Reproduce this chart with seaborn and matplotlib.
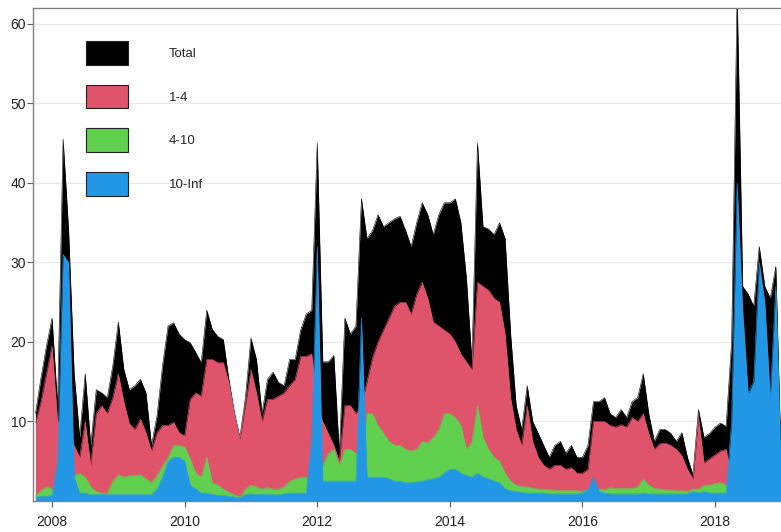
import numpy as np
import pandas as pd
import matplotlib
matplotlib.use("Agg")
import matplotlib.pyplot as plt
import seaborn as sns
from matplotlib.patches import Patch

# monthly counts, Oct 2007 .. Jan 2019
total = [11, 15.5, 19.5, 23, 12, 45.5, 34, 16, 8, 16,
         7, 14, 13.6, 13, 17, 22.5, 16.5, 14, 14.5, 15.3,
         13.6, 7, 10.7, 17, 22, 22.4, 21, 20.3, 19.9, 18.7,
         17.4, 24, 21.6, 20.7, 20.3, 15.3, 11.1, 8, 13, 20.5,
         17.8, 11, 15.3, 16.2, 14.9, 14.5, 17.8, 17.8, 21.5, 23.5,
         24, 45, 17.5, 17.5, 18.3, 6, 23, 21, 22, 38,
         33, 34, 36, 34.5, 35, 35.5, 35.8, 34, 32, 35,
         37.5, 36, 33.5, 36, 37.5, 37.5, 38, 35, 28, 17.5,
         45, 34.5, 34.2, 33.5, 35, 33, 21, 12, 9, 14.5,
         10, 8.5, 7, 5.5, 7, 7.5, 6, 7, 5.5, 5.5,
         7, 12.5, 12.5, 13, 11, 10.5, 11.5, 10.5, 12.5, 13,
         16, 11, 7.5, 9, 9, 8.5, 7.5, 8.6, 5.5, 3.3,
         11.5, 8, 8.5, 9.3, 9.8, 9.4, 20, 64, 27, 26,
         24.5, 32, 27, 25.5, 29.5, 4]

r1_4 = [9.8, 12.5, 16, 19.5, 10, 10, 8, 7, 5.5, 10,
        4.5, 11, 12, 11, 13, 16, 12.5, 9.7, 9, 10.3,
        8.6, 6.3, 8.6, 9.5, 9.5, 9.9, 8.6, 8.2, 12.8, 13.6,
        13.2, 17.8, 17.8, 17.4, 17.4, 14.9, 11, 7.8, 12, 16.5,
        13.6, 10, 12.8, 12.8, 13.2, 13.6, 14.5, 15.3, 18.2, 18.2,
        18.5, 12, 10, 8.5, 7, 5, 12, 12, 11, 12,
        15, 18, 20, 21.5, 23, 24.5, 25, 25, 23.5, 26,
        27.5, 25.5, 22.5, 22, 21.5, 21, 20, 18.5, 17.5, 16.5,
        27.5, 27, 26.5, 25.5, 25, 21, 13, 9, 7, 12,
        7.5, 5.5, 4.5, 4, 4.5, 4.5, 4, 4.2, 3.5, 3.5,
        4, 10, 10, 10, 9.5, 9.3, 9.6, 9.3, 10.5, 10,
        11, 8.5, 6.5, 7.2, 7.3, 7, 6.5, 5.7, 4, 2.8,
        10.5, 4.8, 5.3, 5.8, 6.3, 6.5, 3, 2, 2, 2,
        2, 2, 2, 2, 2, 1.5]

r4_10 = [0.7, 1.3, 1.8, 1.5, 1, 1, 1, 3.2, 3.5, 3,
         1.8, 1.2, 1, 1, 2.5, 3.3, 3, 3.2, 3.2, 3.3,
         2.8, 2.3, 3.2, 4.4, 5.5, 7, 7, 6.8, 5.3, 3.5,
         3, 5.5, 2.3, 2, 1.5, 1.1, 0.8, 0.5, 1.5, 2,
         1.8, 1.5, 1.7, 1.5, 1.5, 1.8, 2.5, 2.8, 3, 3,
         3, 4, 4.5, 6, 6.5, 4.5, 6.5, 6.5, 6, 6,
         11, 11, 9.5, 8.5, 7.5, 7, 7, 6.5, 6.3, 6.5,
         7.5, 7.3, 8, 9, 11, 11, 10.5, 9.5, 6.5, 7.5,
         12, 8, 6.5, 5.5, 5, 3.5, 2.5, 2, 1.8, 1.8,
         1.6, 1.5, 1.5, 1.4, 1.4, 1.3, 1.3, 1.3, 1.3, 1.2,
         1.5, 2, 1.5, 1.4, 1.7, 1.6, 1.6, 1.6, 1.6, 1.8,
         2.8, 2, 1.6, 1.5, 1.4, 1.4, 1.3, 1.3, 1.2, 1.5,
         1.5, 2, 2, 2.2, 2.3, 2, 1, 1, 1, 1,
         1, 1, 1, 1, 1, 1]

r10_inf = [0.5, 0.6, 0.6, 0.7, 5, 31, 30, 3, 1, 1,
           0.8, 0.8, 0.8, 0.8, 0.8, 0.8, 0.8, 0.8, 0.8, 0.8,
           0.8, 0.8, 1.5, 3, 5, 5.5, 5.5, 5, 2, 1.5,
           1, 1, 0.8, 0.7, 0.7, 0.6, 0.5, 0.4, 0.8, 0.9,
           0.8, 0.8, 0.8, 0.8, 0.8, 0.9, 1, 1, 1, 1,
           8, 32, 2.5, 2.5, 2.5, 2.5, 2.5, 2.5, 2.5, 23,
           3, 3, 3, 3, 2.8, 2.5, 2.5, 2.3, 2.3, 2.4,
           2.5, 2.7, 2.8, 3, 3.5, 4, 4, 3.5, 3.2, 3,
           3.5, 3, 2.8, 2.5, 2.3, 1.5, 1.3, 1.2, 1.1, 1,
           1, 1, 1, 0.9, 0.9, 0.9, 0.9, 0.9, 0.9, 1,
           1.5, 3, 1.2, 1, 0.9, 0.9, 0.9, 0.9, 0.9, 0.9,
           1, 0.9, 0.9, 0.9, 0.9, 0.9, 0.9, 0.9, 0.9, 1.2,
           1, 1.2, 1, 1, 1, 1, 10, 40, 24, 13.5,
           15, 30, 25, 13, 27, 3]

labels = ["Total", "1-4", "4-10", "10-Inf"]
colors = ["#000000", "#DF536B", "#61D04F", "#2297E6"]

months = pd.date_range("2007-10-01", periods=len(total), freq="MS")
t = months.year + (months.month - 1) / 12

df = pd.DataFrame({"t": t, "Total": total, "1-4": r1_4,
                   "4-10": r4_10, "10-Inf": r10_inf})

sns.set_theme(style="white")
plt.rcParams["font.family"] = ["Liberation Sans", "DejaVu Sans"]

fig = plt.figure(figsize=(7.81, 5.32), dpi=100)
ax = fig.add_axes([33 / 781, 31 / 532, 748 / 781, 493 / 532])

# overlapping areas, each filled from zero
for lab, col in zip(labels, colors):
    ax.fill_between(df["t"], 0, df[lab], color=col, lw=0, zorder=2)
    sns.lineplot(data=df, x="t", y=lab, color=col, lw=0.4, ax=ax, zorder=2)

ax.set_xlim(2007.713, 2018.995)
ax.set_ylim(0, 62)
ax.set_xticks([2008, 2010, 2012, 2014, 2016, 2018])
ax.set_yticks([10, 20, 30, 40, 50, 60])
ax.set_xlabel("")
ax.set_ylabel("")
ax.yaxis.grid(True, color="#e8e8e8", lw=0.8)
ax.set_axisbelow(True)

for side in ["left", "top", "bottom"]:
    ax.spines[side].set_color("#808080")
    ax.spines[side].set_linewidth(1)
ax.spines["right"].set_visible(False)
ax.tick_params(axis="both", direction="out", width=0.8,
               color="#606060", labelsize=10, labelcolor="#222222")
ax.tick_params(axis="x", bottom=True, length=4, pad=6)
ax.tick_params(axis="y", left=True, length=4, pad=1)

handles = [Patch(facecolor=c, edgecolor="#222222", lw=0.8) for c in colors]
ax.legend(handles, labels, loc="upper left", bbox_to_anchor=(0.0615, 0.947),
          frameon=False, borderpad=0, fontsize=9.5, handlelength=3.18,
          handleheight=2.42, labelspacing=1.5, handletextpad=3.1)

fig.savefig("out.png", dpi=100)
